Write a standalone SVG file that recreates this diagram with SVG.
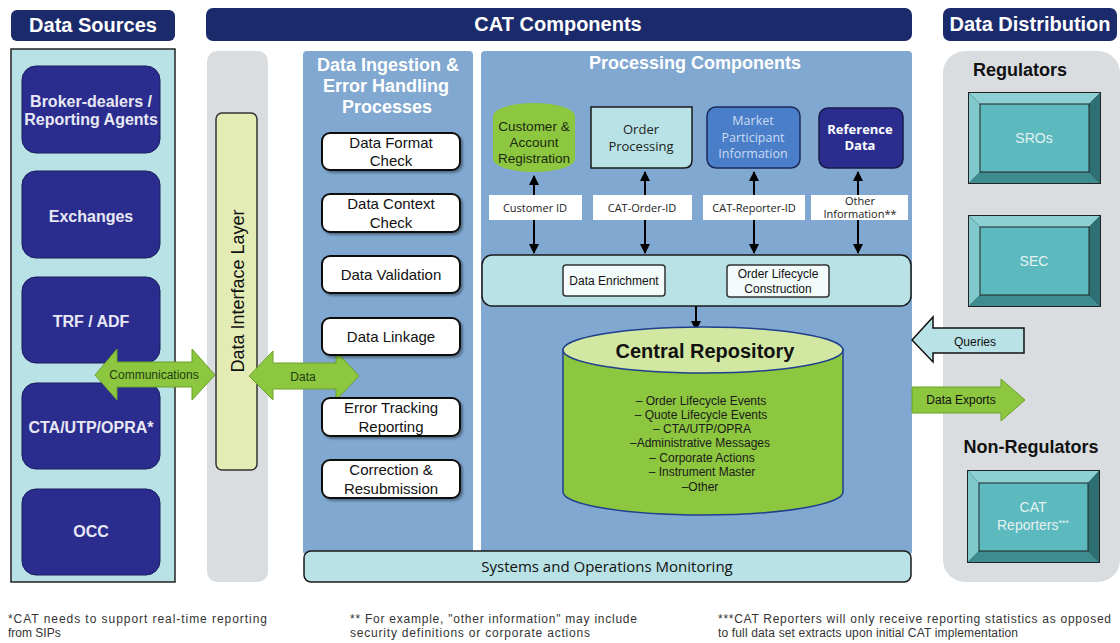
<svg xmlns="http://www.w3.org/2000/svg" width="1120" height="643" viewBox="0 0 1120 643">
<defs>
<style>
text{font-family:"Liberation Sans",Arial,sans-serif}
.hdr{fill:#1b2a6b}
.hdrt{fill:#ffffff;font-weight:bold;font-size:20px;text-anchor:middle}
.src{fill:#2b2d8e;stroke:#1b1d5e;stroke-width:1}
.srct{fill:#e8e8f4;font-weight:bold;font-size:16px;text-anchor:middle}
.panel{fill:#80a8d0}
.ptitle{fill:#ffffff;font-weight:bold;font-size:18px;text-anchor:middle}
.proc{fill:#ffffff;stroke:#111;stroke-width:2}
.proct{fill:#111;font-size:15px;text-anchor:middle}
.lbl{fill:#ffffff}
.lblt{fill:#222;font-size:11px;text-anchor:middle;font-family:"Open Sans","Liberation Sans",sans-serif}
.cyan{fill:#b8e2e5;stroke:#1a1a1a;stroke-width:1.5}
.cal{font-family:"Open Sans","Liberation Sans",sans-serif}
.bt{fill:#8dd0d4}
.bl{fill:#7fc8cc}
.br{fill:#2e6f73}
.bb{fill:#3d8c90}
.bi{fill:#5cb9be;stroke:#222;stroke-width:1}
.bevt{fill:#e4f2f2;font-size:14px;text-anchor:middle}
.green{fill:#8dc63f;stroke:#6aa22a;stroke-width:1}
.foot{fill:#333;font-size:12px}
.vline{stroke:#000;stroke-width:2;fill:none}
</style>
<marker id="ah" viewBox="0 0 10 10" refX="9" refY="5" markerWidth="5" markerHeight="5" orient="auto-start-reverse">
<path d="M0,0 L10,5 L0,10 z" fill="#000"/>
</marker>
<filter id="sh" x="-10%" y="-10%" width="130%" height="140%">
<feDropShadow dx="2" dy="2" stdDeviation="1.2" flood-color="#000" flood-opacity="0.35"/>
</filter>
</defs>

<rect width="1120" height="643" fill="#ffffff"/>

<!-- Headers -->
<g id="hdr-sources"><rect class="hdr" x="11" y="10" width="164" height="31" rx="6"/><text class="hdrt" x="93" y="32">Data Sources</text></g>
<g id="hdr-cat"><rect class="hdr" x="206" y="8" width="706" height="33" rx="7"/><text class="hdrt" x="558" y="31">CAT Components</text></g>
<g id="hdr-dist"><rect class="hdr" x="943" y="8" width="174" height="33" rx="7"/><text class="hdrt" x="1030" y="31">Data Distribution</text></g>

<!-- Data sources panel -->
<g id="sources-panel">
<rect x="11" y="49" width="164" height="533" fill="#b8e2e5" stroke="#222" stroke-width="1.5"/>
</g>
<g id="src-broker"><rect class="src" x="22" y="66" width="138" height="87" rx="14"/><text class="srct" x="91" y="107">Broker-dealers /</text><text class="srct" x="91" y="125">Reporting Agents</text></g>
<g id="src-exchanges"><rect class="src" x="22" y="171" width="138" height="87" rx="14"/><text class="srct" x="91" y="222">Exchanges</text></g>
<g id="src-trf"><rect class="src" x="22" y="277" width="138" height="86" rx="14"/><text class="srct" x="91" y="327">TRF / ADF</text></g>
<g id="src-cta"><rect class="src" x="22" y="383" width="138" height="86" rx="14"/><text class="srct" x="91" y="433">CTA/UTP/OPRA*</text></g>
<g id="src-occ"><rect class="src" x="22" y="489" width="138" height="86" rx="14"/><text class="srct" x="91" y="537">OCC</text></g>

<!-- Data interface layer -->
<g id="interface-layer">
<rect x="207" y="51" width="61" height="531" rx="10" fill="#d9dde0"/>
<rect x="216" y="113" width="41" height="357" rx="6" fill="#e4ecb6" stroke="#333" stroke-width="1.5"/>
<text x="0" y="0" transform="translate(244,291) rotate(-90)" font-size="18px" fill="#111" text-anchor="middle">Data Interface Layer</text>
</g>

<!-- Ingestion panel -->
<g id="ingestion-panel">
<rect class="panel" x="303" y="51" width="170" height="504" rx="4"/>
<text class="ptitle" x="388" y="71">Data Ingestion &amp;</text>
<text class="ptitle" x="386" y="92">Error Handling</text>
<text class="ptitle" x="387" y="113">Processes</text>
</g>

<!-- Processing panel -->
<g id="processing-panel">
<rect class="panel" x="481" y="51" width="431" height="504" rx="4"/>
<text class="ptitle" x="695" y="69" font-size="17px">Processing Components</text>
</g>

<!-- Data distribution panel -->
<g id="dist-panel">
<rect x="943" y="51" width="177" height="531" rx="22" fill="#d9dde0"/>
<text x="1020" y="76" font-size="18px" font-weight="bold" fill="#111" text-anchor="middle">Regulators</text>
<text x="1031" y="453" font-size="18px" font-weight="bold" fill="#111" text-anchor="middle">Non-Regulators</text>
</g>

<!-- Connectors -->
<g id="connectors">
<line class="vline" x1="534" y1="253" x2="534" y2="176" marker-start="url(#ah)" marker-end="url(#ah)"/>
<line class="vline" x1="645" y1="253" x2="645" y2="172" marker-start="url(#ah)" marker-end="url(#ah)"/>
<line class="vline" x1="754" y1="253" x2="754" y2="172" marker-start="url(#ah)" marker-end="url(#ah)"/>
<line class="vline" x1="858" y1="253" x2="858" y2="172" marker-start="url(#ah)" marker-end="url(#ah)"/>
<line class="vline" x1="696" y1="306" x2="696" y2="330" marker-end="url(#ah)"/>
<!-- Communications -->
<path d="M95,375 L117,349 L117,362 L192,362 L192,349 L215,375 L192,400 L192,387 L117,387 L117,400 Z" class="green"/>
<text x="154" y="379" font-size="12px" fill="#1d3d12" text-anchor="middle">Communications</text>
<!-- Data -->
<path d="M249,376 L273,351 L273,363 L336,363 L336,351 L359,376 L336,400 L336,389 L273,389 L273,400 Z" class="green"/>
<text x="303" y="381" font-size="12px" fill="#1d3d12" text-anchor="middle">Data</text>
<!-- Queries -->
<path d="M912,340 L933,317 L933,328 L1024,328 L1024,353 L933,353 L933,362 Z" fill="#b8e2e5" stroke="#111" stroke-width="1.5"/>
<text x="975" y="346" font-size="12px" fill="#111" text-anchor="middle">Queries</text>
<!-- Data Exports -->
<path d="M912,387 L1001,387 L1001,379 L1025,400 L1001,421 L1001,413 L912,413 Z" class="green"/>
<text x="961" y="404" font-size="12px" fill="#111" text-anchor="middle">Data Exports</text>
</g>

<!-- Ingestion process nodes -->
<g id="p-format"><rect class="proc" filter="url(#sh)" x="322" y="133" width="138" height="37" rx="8"/><text class="proct" x="391" y="148">Data Format</text><text class="proct" x="391" y="166">Check</text></g>
<g id="p-context"><rect class="proc" filter="url(#sh)" x="322" y="194" width="138" height="38" rx="8"/><text class="proct" x="391" y="209">Data Context</text><text class="proct" x="391" y="228">Check</text></g>
<g id="p-validation"><rect class="proc" filter="url(#sh)" x="322" y="256" width="138" height="37" rx="8"/><text class="proct" x="391" y="280">Data Validation</text></g>
<g id="p-linkage"><rect class="proc" filter="url(#sh)" x="322" y="318" width="138" height="37" rx="8"/><text class="proct" x="391" y="342">Data Linkage</text></g>
<g id="p-error"><rect class="proc" filter="url(#sh)" x="322" y="398" width="138" height="38" rx="8"/><text class="proct" x="391" y="413">Error Tracking</text><text class="proct" x="391" y="432">Reporting</text></g>
<g id="p-correction"><rect class="proc" filter="url(#sh)" x="322" y="460" width="138" height="38" rx="8"/><text class="proct" x="391" y="475">Correction &amp;</text><text class="proct" x="391" y="494">Resubmission</text></g>

<!-- Top row processing nodes -->
<g id="customer-reg">
<rect x="493" y="103" width="82" height="69" rx="41" ry="13" fill="#8dc63f"/>
<text x="534" y="131" font-size="13.5px" fill="#1a2a10" text-anchor="middle">Customer  &amp;</text>
<text x="534" y="147" font-size="13.5px" fill="#1a2a10" text-anchor="middle">Account</text>
<text x="534" y="163" font-size="13.5px" fill="#1a2a10" text-anchor="middle">Registration</text>
</g>
<g id="order-processing">
<path d="M591,107 L692,107 L692,160 Q692,168 684,168 L591,168 Z" class="cyan"/>
<text x="641" y="134" font-size="13px" fill="#222" text-anchor="middle" class="cal">Order</text>
<text x="641" y="151" font-size="13px" fill="#222" text-anchor="middle" class="cal">Processing</text>
</g>
<g id="market-participant">
<rect x="707" y="107" width="93" height="61" rx="9" fill="#4a7ec8" stroke="#1a2a5a" stroke-width="1.5"/>
<text x="753" y="125" font-size="12.5px" fill="#c9dbf2" text-anchor="middle" class="cal">Market</text>
<text x="753" y="142" font-size="12.5px" fill="#c9dbf2" text-anchor="middle" class="cal">Participant</text>
<text x="753" y="158" font-size="12.5px" fill="#c9dbf2" text-anchor="middle" class="cal">Information</text>
</g>
<g id="reference-data">
<rect x="819" y="108" width="84" height="60" rx="9" fill="#2b2d8e" stroke="#1a1a4a" stroke-width="1.5"/>
<text x="860" y="134" font-size="13px" fill="#ffffff" font-weight="bold" text-anchor="middle" class="cal">Reference</text>
<text x="860" y="150" font-size="13px" fill="#ffffff" font-weight="bold" text-anchor="middle" class="cal">Data</text>
</g>

<!-- ID labels -->
<g id="lbl-customer"><rect class="lbl" x="489" y="195" width="93" height="25"/><text class="lblt" x="535" y="212">Customer ID</text></g>
<g id="lbl-order"><rect class="lbl" x="593" y="195" width="99" height="25"/><text class="lblt" x="642" y="212">CAT-Order-ID</text></g>
<g id="lbl-reporter"><rect class="lbl" x="703" y="195" width="102" height="25"/><text class="lblt" x="754" y="212">CAT-Reporter-ID</text></g>
<g id="lbl-other"><rect class="lbl" x="811" y="195" width="97" height="25"/><text class="lblt" x="860" y="205">Other</text><text class="lblt" x="860" y="218">Information**</text></g>

<!-- Enrichment bar -->
<g id="enrichment-bar">
<rect x="482" y="255" width="429" height="51" rx="10" class="cyan"/>
</g>
<g id="data-enrichment"><rect x="563" y="265" width="102" height="31" rx="3" fill="#f4fbfb" stroke="#333" stroke-width="1.5"/><text x="614" y="285" font-size="12px" fill="#111" text-anchor="middle">Data Enrichment</text></g>
<g id="order-lifecycle"><rect x="727" y="265" width="102" height="32" rx="3" fill="#f4fbfb" stroke="#333" stroke-width="1.5"/><text x="778" y="278" font-size="12px" fill="#111" text-anchor="middle">Order Lifecycle</text><text x="778" y="293" font-size="12px" fill="#111" text-anchor="middle">Construction</text></g>

<!-- Central repository -->
<g id="central-repository">
<path d="M563,350 L563,492 A140,23 0 0 0 843,492 L843,350 Z" fill="#8dc63f" stroke="#1f3f8f" stroke-width="1.5"/>
<ellipse cx="703" cy="350" rx="140" ry="23" fill="#d2e8a2" stroke="#1f3f8f" stroke-width="1.5"/>
<text x="705" y="358" font-size="20px" font-weight="bold" fill="#111" text-anchor="middle">Central Repository</text>
<g font-size="12px" fill="#1a1a1a" text-anchor="middle">
<text x="701" y="405">– Order Lifecycle Events</text>
<text x="701" y="419">– Quote Lifecycle Events</text>
<text x="702" y="433">– CTA/UTP/OPRA</text>
<text x="700" y="447">–Administrative Messages</text>
<text x="702" y="462">– Corporate Actions</text>
<text x="702" y="476">– Instrument Master</text>
<text x="700" y="491">–Other</text>
</g>
</g>

<!-- Systems monitoring -->
<g id="systems-monitoring">
<rect x="304" y="551" width="607" height="31" rx="7" class="cyan"/>
<text x="607" y="572" font-size="15px" fill="#111" text-anchor="middle" class="cal">Systems and Operations Monitoring</text>
</g>

<!-- Data distribution nodes -->
<g id="sros">
<rect x="968" y="92" width="133" height="92" fill="#222"/>
<polygon class="bt" points="969,93 1100,93 1089,104 980,104"/>
<polygon class="bl" points="969,93 980,104 980,172 969,183"/>
<polygon class="br" points="1100,93 1100,183 1089,172 1089,104"/>
<polygon class="bb" points="969,183 980,172 1089,172 1100,183"/>
<rect class="bi" x="980" y="104" width="109" height="68"/>
<text class="bevt" x="1034" y="143">SROs</text>
</g>
<g id="sec">
<rect x="968" y="215" width="133" height="92" fill="#222"/>
<polygon class="bt" points="969,216 1100,216 1089,227 980,227"/>
<polygon class="bl" points="969,216 980,227 980,295 969,306"/>
<polygon class="br" points="1100,216 1100,306 1089,295 1089,227"/>
<polygon class="bb" points="969,306 980,295 1089,295 1100,306"/>
<rect class="bi" x="980" y="227" width="109" height="68"/>
<text class="bevt" x="1034" y="266">SEC</text>
</g>
<g id="cat-reporters">
<rect x="967" y="470" width="133" height="93" fill="#222"/>
<polygon class="bt" points="968,471 1099,471 1088,483 979,483"/>
<polygon class="bl" points="968,471 979,483 979,551 968,562"/>
<polygon class="br" points="1099,471 1099,562 1088,551 1088,483"/>
<polygon class="bb" points="968,562 979,551 1088,551 1099,562"/>
<rect class="bi" x="979" y="483" width="109" height="68"/>
<text class="bevt" x="1033" y="512">CAT</text>
<text class="bevt" x="1033" y="530">Reporters<tspan font-size="9px" dy="-4">***</tspan></text>
</g>

<!-- Footnotes -->
<g id="footnotes">
<text class="foot" x="8" y="623" textLength="259" lengthAdjust="spacing">*CAT needs to support real-time reporting</text>
<text class="foot" x="8" y="637">from SIPs</text>
<text class="foot" x="350" y="623" textLength="287" lengthAdjust="spacing">** For example,  "other information" may include</text>
<text class="foot" x="350" y="637" textLength="240" lengthAdjust="spacing">security definitions or corporate actions</text>
<text class="foot" x="718" y="623" textLength="393" lengthAdjust="spacing">***CAT Reporters will only receive reporting statistics as opposed</text>
<text class="foot" x="718" y="637" textLength="300" lengthAdjust="spacing">to full data set extracts upon initial CAT implementation</text>
</g>
</svg>
